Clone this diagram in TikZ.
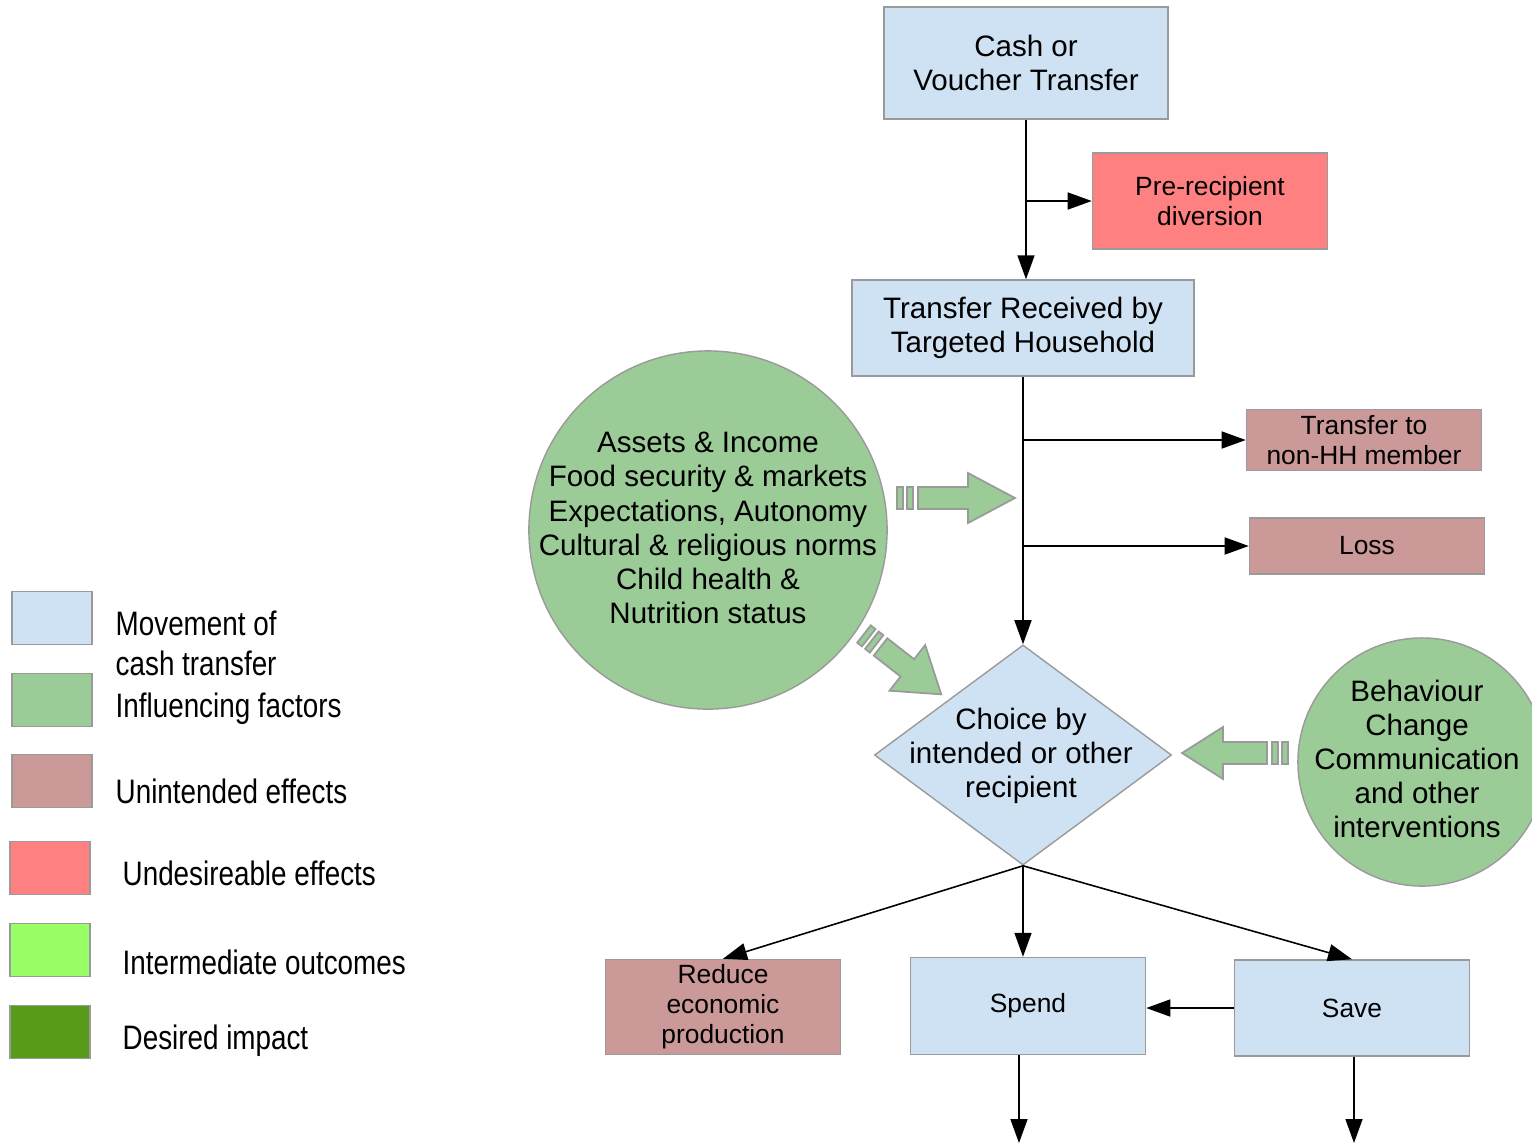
\documentclass[tikz,border=0pt]{standalone}
\usepackage{fontspec}
\setmainfont{Liberation Sans}
\newfontfamily\legendfont[FakeStretch=0.82]{Liberation Sans}
\usetikzlibrary{positioning, arrows.meta, shapes.geometric, calc}
\definecolor{Flow}{HTML}{CFE2F3}
\definecolor{Factor}{HTML}{9BCB97}
\definecolor{Unintended}{HTML}{CC9999}
\definecolor{Undesired}{HTML}{FF8080}
\definecolor{Interim}{HTML}{99FF66}
\definecolor{Impact}{HTML}{589A1A}
\definecolor{Edge}{HTML}{9A9A9A}

% striped block arrow: start, angle, head base, tip, head half width
\newcommand{\factorarrow}[5]{%
  \begin{scope}[shift={#1}, rotate=#2]
    \draw[blockarrow] (0,-11) rectangle (6,11);
    \draw[blockarrow] (10,-11) rectangle (16,11);
    \draw[blockarrow] (21,-11) -- (#3,-11) -- (#3,-#5) -- (#4,0) --
      (#3,#5) -- (#3,11) -- (21,11) -- cycle;
  \end{scope}}

\begin{document}
\begin{tikzpicture}[
    x=0.01cm, y=-0.01cm,
    every node/.style={font=\fontsize{8.4}{9.7}\selectfont},
    smalltext/.style={font=\fontsize{7.5}{8.5}\selectfont},
    box/.style={draw=Edge, align=center, inner sep=0pt, minimum width=2.35cm},
    flowbox/.style={box, fill=Flow},
    badbox/.style={box, fill=Unintended, smalltext},
    worstbox/.style={box, fill=Undesired, smalltext},
    legendbox/.style={draw=Edge, minimum width=0.8cm, minimum height=0.53cm, inner sep=0pt},
    legendtxt/.style={anchor=west, align=left, inner sep=0pt, font=\legendfont\fontsize{9.65}{11.4}\selectfont},
    link/.style={-{Triangle[length=2.4mm, width=1.7mm]}, line width=0.45pt},
    blockarrow/.style={fill=Factor, draw=Edge, line width=0.5pt, line join=miter}
]
\clip (0,0) rectangle (1532,1144);

% === LEGEND ===
\node[legendbox, fill=Flow] (lflow) at (52,618) {};
\node[legendtxt] (lflowtxt) at (115,643) {Movement of\\cash transfer};
\node[legendbox, fill=Factor] (lfactor) at (52,700) {};
\node[legendtxt] (lfactortxt) at (115,709) {Influencing factors};
\node[legendbox, fill=Unintended] (lunint) at (52,781) {};
\node[legendtxt] (luninttxt) at (115,791) {Unintended effects};
\node[legendbox, fill=Undesired] (lundes) at (50,868) {};
\node[legendtxt] (lundestxt) at (122,873) {Undesireable effects};
\node[legendbox, fill=Interim] (linterim) at (50,950) {};
\node[legendtxt] (linterimtxt) at (122,962) {Intermediate outcomes};
\node[legendbox, fill=Impact] (limpact) at (50,1032) {};
\node[legendtxt] (limpacttxt) at (122,1041) {Desired impact};

% === TRANSFER CHAIN ===
\node[flowbox, minimum width=2.84cm, minimum height=1.12cm] (cash) at (1026,63) {Cash or\\Voucher Transfer};
\node[worstbox, minimum height=0.96cm] (pre) at (1210,201) {Pre-recipient\\diversion};
\node[flowbox, minimum width=3.42cm, minimum height=0.96cm] (recv) at (1023,328) {Transfer Received by\\Targeted Household};
\node[badbox, minimum height=0.61cm] (nonhh) at (1364,440) {Transfer to\\non-HH member};
\node[badbox, minimum height=0.56cm] (loss) at (1367,546) {Loss};

% === CHOICE ===
\node[diamond, draw=Edge, fill=Flow, minimum width=2.97cm, minimum height=2.2cm, inner sep=0pt] (choice) at (1023,755) {};
\node[align=center] (choicetxt) at (1021,756) {Choice by\\intended or other\\recipient};

\draw[link] (cash.south) -- (cash.south |- recv.north);
\draw[link] (cash.south |- pre.west) -- (pre.west);
\draw[link] (recv.south) -- (choice.north);
\draw[link] (recv.south |- nonhh.west) -- (nonhh.west);
\draw[link] (recv.south |- loss.west) -- (loss.west);

% === INFLUENCING FACTORS ===
\node[circle, draw=Edge, fill=Factor, minimum size=3.58cm, inner sep=0pt] (factors) at (708,530) {};
\node[align=center] (factorstxt) at (708,528) {Assets \& Income\\Food security \& markets\\Expectations, Autonomy\\Cultural \& religious norms\\Child health \&\\Nutrition status};
\node[circle, draw=Edge, fill=Factor, minimum size=2.48cm, inner sep=0pt] (bcc) at (1422,762) {};
\node[align=center] (bcctxt) at (1417,759) {Behaviour\\Change\\Communication\\and other\\interventions};

\factorarrow{(897,498)}{0}{71}{118}{25}
\factorarrow{(864,634)}{-38}{55}{98}{29}
\factorarrow{(1288,753)}{180}{65}{106}{26}

% === USES ===
\node[badbox, minimum height=0.95cm] (reduce) at (723,1007) {Reduce\\economic\\production};
\node[flowbox, smalltext, minimum height=0.97cm] (spend) at (1028,1006) {Spend};
\node[flowbox, smalltext, minimum height=0.96cm] (save) at (1352,1008) {Save};

\draw[link] (choice.south) -- (reduce.north);
\draw[link] (choice.south) -- (choice.south |- spend.north);
\draw[link] (choice.south) -- (save.north);
\draw[link] (save.west) -- (save.west -| spend.east);

\coordinate (spendout) at (1019,1143);
\coordinate (saveout) at (1354,1143);
\draw[link] (spendout |- spend.south) -- (spendout);
\draw[link] (saveout |- save.south) -- (saveout);
\end{tikzpicture}
\end{document}
